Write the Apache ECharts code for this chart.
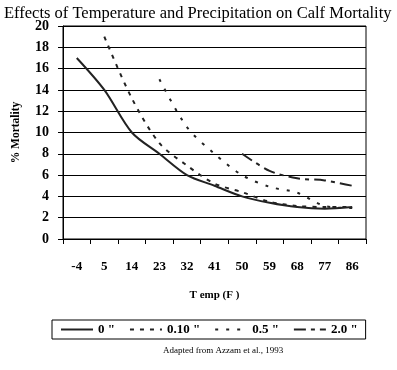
<!DOCTYPE html>
<html>
<head>
<meta charset="utf-8">
<script src="https://cdn.jsdelivr.net/npm/echarts@6/dist/echarts.min.js"></script>
<style>
html,body{margin:0;padding:0;background:#fff;}
#c{width:397px;height:370px;}
</style>
</head>
<body>
<div id="c"></div>
<script>
var categories = ['-4','5','14','23','32','41','50','59','68','77','86'];
var precip0   = [17, 14, 10, 8, 6, 5, 4, 3.4, 3.0, 2.85, 3.0];
var precip010 = [null, 19, 13.2, 9.0, 6.9, 5.2, 4.4, 3.5, 3.1, 3.0, 3.0];
var precip05  = [null, null, null, 15, 10.5, 8.0, 6.0, 4.9, 4.35, 3.1, 2.9];
var precip20  = [null, null, null, null, null, null, 8.0, 6.4, 5.7, 5.5, 5.0];
var seriesNames = ['0 "', '0.10 "', '0.5 "', '2.0 "'];
var yTicks = {min: 0, max: 20, interval: 2};

var serif = '"Liberation Serif", "Times New Roman", serif';
var chart = echarts.init(document.getElementById('c'), null, {renderer: 'canvas'});

function mk(name, data, dash) {
  return {
    name: name, type: 'line', data: data, smooth: 0.3, symbol: 'none',
    connectNulls: false,
    lineStyle: {color: '#222', width: 2, type: dash},
    itemStyle: {color: '#222'}
  };
}

chart.setOption({
  animation: false,
  backgroundColor: '#fff',
  title: [{
    text: 'Effects of Temperature and Precipitation on Calf Mortality',
    left: -1, top: 0,
    textStyle: {fontFamily: serif, fontSize: 16.5, fontWeight: 'normal', color: '#000'}
  }, {
    text: 'Adapted from Azzam et al., 1993',
    left: 158, top: 341,
    textStyle: {fontFamily: serif, fontSize: 9, fontWeight: 'normal', color: '#000'}
  }],
  grid: {left: 63, right: 31, top: 26, bottom: 131, show: true, borderColor: '#000', borderWidth: 1},
  legend: {
    data: seriesNames,
    left: 52, top: 320, width: 313,
    padding: [3, 8, 3, 8],
    itemGap: 14,
    itemWidth: 32, itemHeight: 10,
    borderColor: '#000', borderWidth: 1,
    itemStyle: {color: 'rgba(0,0,0,0)', borderWidth: 0, opacity: 0},
    textStyle: {fontFamily: serif, fontSize: 13, fontWeight: 'bold', color: '#000'}
  },
  xAxis: {
    type: 'category', data: categories, boundaryGap: true,
    name: 'T emp (F )', nameLocation: 'middle', nameGap: 51,
    nameTextStyle: {fontFamily: serif, fontSize: 11, fontWeight: 'bold', color: '#000'},
    axisLine: {lineStyle: {color: '#000', width: 1}},
    axisTick: {show: true, length: 5, lineStyle: {color: '#000'}},
    axisLabel: {fontFamily: serif, fontSize: 13, fontWeight: 'bold', color: '#000', margin: 21},
    splitLine: {show: false}
  },
  yAxis: {
    type: 'value', min: yTicks.min, max: yTicks.max, interval: yTicks.interval,
    name: '% Mortality', nameLocation: 'middle', nameGap: 41, nameRotate: 90,
    nameTextStyle: {fontFamily: serif, fontSize: 11.5, fontWeight: 'bold', color: '#000'},
    axisLine: {show: true, lineStyle: {color: '#000', width: 1}},
    axisTick: {show: true, length: 5, lineStyle: {color: '#000'}},
    axisLabel: {fontFamily: serif, fontSize: 14, fontWeight: 'bold', color: '#000', margin: 14},
    splitLine: {show: true, lineStyle: {color: '#000', width: 1}}
  },
  series: [
    mk(seriesNames[0], precip0, 'solid'),
    mk(seriesNames[1], precip010, [4, 6]),
    mk(seriesNames[2], precip05, [3, 8]),
    mk(seriesNames[3], precip20, [12, 5, 4, 5])
  ]
});
</script>
</body>
</html>
